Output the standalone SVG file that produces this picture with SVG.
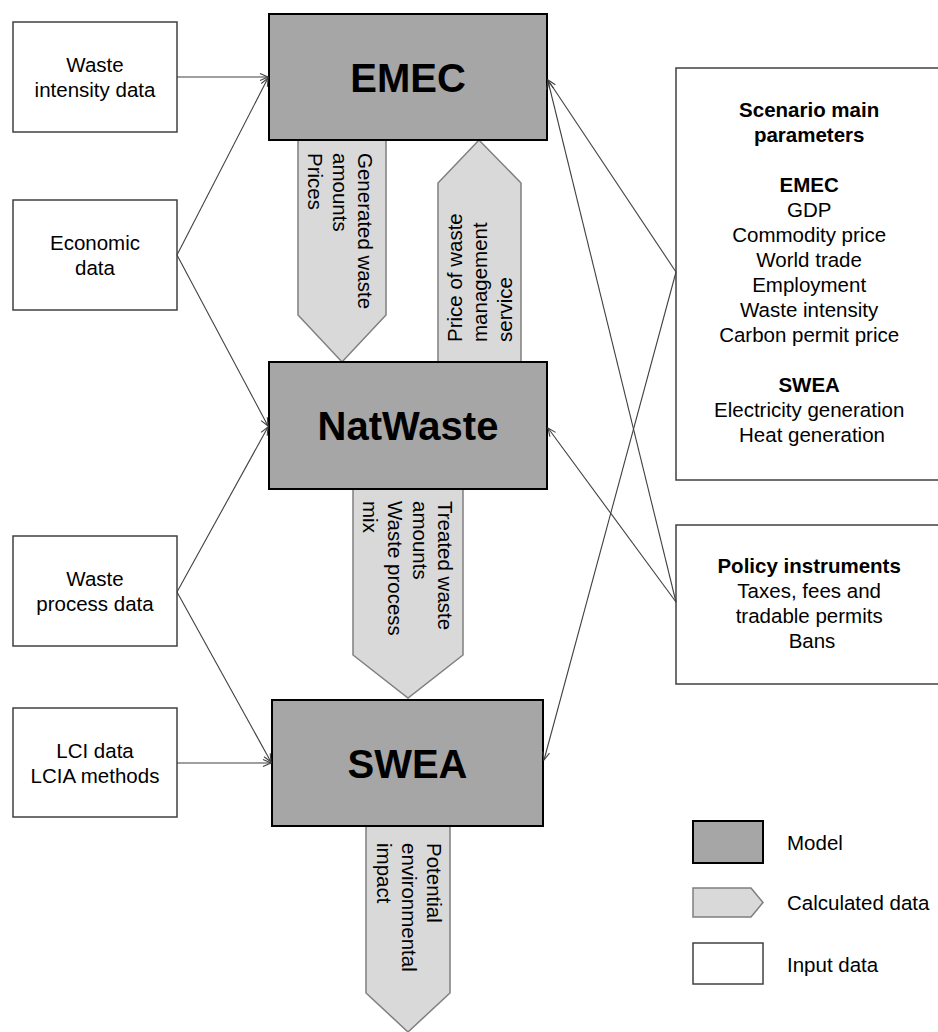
<svg xmlns="http://www.w3.org/2000/svg" width="938" height="1032" viewBox="0 0 938 1032">
<defs>
<style>
text{font-family:"Liberation Sans",Arial,sans-serif;font-size:20.5px;fill:#000}
.b{font-weight:bold}
.big{font-weight:bold;font-size:40px}
.mid{text-anchor:middle}
.model{fill:#a6a6a6;stroke:#000;stroke-width:2}
.calc{fill:#d9d9d9;stroke:#7f7f7f;stroke-width:1.5}
.input{fill:#fff;stroke:#404040;stroke-width:1.5}
.conn{fill:none;stroke:#404040;stroke-width:1.1;marker-end:url(#ah)}
</style>
<marker id="ah" markerUnits="userSpaceOnUse" markerWidth="12" markerHeight="12" refX="9" refY="4" orient="auto">
<path d="M1,0.5 L9,4 L1,7.5" fill="none" stroke="#404040" stroke-width="1.1"/>
</marker>
</defs>
<rect width="938" height="1032" fill="#fff"/>

<g id="calc-generated">
<polygon class="calc" points="298,140 386,140 386,315 342,362 298,315"/>
<text transform="translate(358,153) rotate(90)"><tspan x="0" y="0">Generated waste</tspan><tspan x="0" dy="25">amounts</tspan><tspan x="0" dy="25">Prices</tspan></text>
</g>
<g id="calc-price">
<polygon class="calc" points="438,362 438,183 479,140 521,183 521,362"/>
<text transform="translate(462,342) rotate(-90)"><tspan x="0" y="0">Price of waste</tspan><tspan x="0" dy="25">management</tspan><tspan x="0" dy="25">service</tspan></text>
</g>
<g id="calc-treated">
<polygon class="calc" points="353,489 463,489 463,655 408,698 353,655"/>
<text transform="translate(438,501) rotate(90)"><tspan x="0" y="0">Treated waste</tspan><tspan x="0" dy="25">amounts</tspan><tspan x="0" dy="25">Waste process</tspan><tspan x="0" dy="25">mix</tspan></text>
</g>
<g id="calc-impact">
<polygon class="calc" points="366,826 450,826 450,993 408,1032 366,993"/>
<text transform="translate(427,843) rotate(90)"><tspan x="0" y="0">Potential</tspan><tspan x="0" dy="25">environmental</tspan><tspan x="0" dy="25">impact</tspan></text>
</g>

<g id="emec">
<rect class="model" x="269" y="14" width="278" height="126"/>
<text class="big mid" x="408" y="92">EMEC</text>
</g>
<g id="natwaste">
<rect class="model" x="269" y="362" width="278" height="127"/>
<text class="big mid" x="408" y="440">NatWaste</text>
</g>
<g id="swea">
<rect class="model" x="272" y="700" width="271" height="126"/>
<text class="big mid" x="407.5" y="778">SWEA</text>
</g>

<g id="waste-intensity">
<rect class="input" x="13" y="22" width="164" height="110"/>
<text class="mid" x="95" y="72">Waste</text>
<text class="mid" x="95" y="97">intensity data</text>
</g>
<g id="economic">
<rect class="input" x="13" y="200" width="164" height="110"/>
<text class="mid" x="95" y="250">Economic</text>
<text class="mid" x="95" y="275">data</text>
</g>
<g id="waste-process">
<rect class="input" x="13" y="536" width="164" height="110"/>
<text class="mid" x="95" y="586">Waste</text>
<text class="mid" x="95" y="611">process data</text>
</g>
<g id="lci">
<rect class="input" x="13" y="708" width="164" height="109"/>
<text class="mid" x="95" y="758">LCI data</text>
<text class="mid" x="95" y="783">LCIA methods</text>
</g>

<g id="scenario">
<rect class="input" x="676" y="68" width="280" height="412"/>
<text class="mid" x="812">
<tspan class="b" x="812" y="117">Scenario main</tspan>
<tspan class="b" x="812" y="142">parameters</tspan>
<tspan class="b" x="812" y="192">EMEC</tspan>
<tspan x="812" y="217">GDP</tspan>
<tspan x="812" y="242">Commodity price</tspan>
<tspan x="812" y="267">World trade</tspan>
<tspan x="812" y="292">Employment</tspan>
<tspan x="812" y="317">Waste intensity</tspan>
<tspan x="812" y="342">Carbon permit price</tspan>
<tspan class="b" x="812" y="392">SWEA</tspan>
<tspan x="812" y="417">Electricity generation</tspan>
<tspan x="812" y="442">Heat generation</tspan>
</text>
</g>
<g id="policy">
<rect class="input" x="676" y="525" width="280" height="159"/>
<text class="mid" x="812">
<tspan class="b" x="812" y="573">Policy instruments</tspan>
<tspan x="812" y="598">Taxes, fees and</tspan>
<tspan x="812" y="623">tradable permits</tspan>
<tspan x="812" y="648">Bans</tspan>
</text>
</g>

<g id="connectors">
<line class="conn" x1="177" y1="77" x2="268" y2="77"/>
<line class="conn" x1="177" y1="255" x2="268" y2="78"/>
<line class="conn" x1="177" y1="255" x2="268" y2="426"/>
<line class="conn" x1="177" y1="592" x2="268" y2="427"/>
<line class="conn" x1="177" y1="592" x2="271" y2="762"/>
<line class="conn" x1="177" y1="763" x2="271" y2="763"/>
<line class="conn" x1="676" y1="272" x2="548" y2="80"/>
<line class="conn" x1="676" y1="272" x2="544" y2="760"/>
<line class="conn" x1="676" y1="602" x2="548" y2="81"/>
<line class="conn" x1="676" y1="602" x2="548" y2="428"/>
</g>

<g id="legend">
<rect class="model" x="693" y="821" width="70" height="42"/>
<text x="787" y="850">Model</text>
<polygon class="calc" points="693,888 751,888 763,902.5 751,917 693,917"/>
<text x="787" y="910">Calculated data</text>
<rect class="input" x="693" y="943" width="70" height="41"/>
<text x="787" y="972">Input data</text>
</g>
</svg>
